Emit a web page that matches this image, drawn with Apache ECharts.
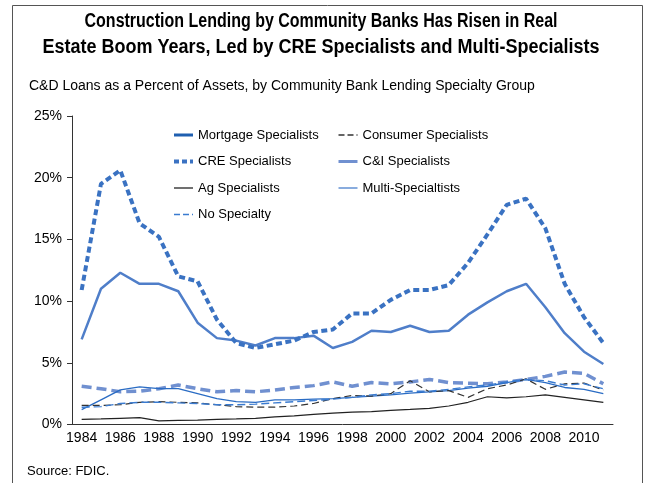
<!DOCTYPE html>
<html>
<head>
<meta charset="utf-8">
<script src="https://cdn.jsdelivr.net/npm/echarts@6/dist/echarts.min.js"></script>
<style>
  html, body { margin: 0; padding: 0; background: #fff; }
  #chart { width: 649px; height: 483px; }
</style>
</head>
<body>
<div id="chart"></div>
<script>
// years on the x axis
var years = ['1984','1985','1986','1987','1988','1989','1990','1991','1992','1993','1994','1995','1996','1997',
             '1998','1999','2000','2001','2002','2003','2004','2005','2006','2007','2008','2009','2010','2011'];

// C&D loans as % of assets
var creSpec     = [10.9,19.5,20.6,16.3,15.2,12.0,11.6,8.5,6.6,6.2,6.5,6.8,7.5,7.7,9.0,9.0,10.1,10.9,10.9,11.3,13.1,15.4,17.8,18.3,15.9,11.4,8.7,6.6];
var multiSpec   = [6.9,11.0,12.3,11.4,11.4,10.8,8.25,7.0,6.8,6.4,7.0,7.0,7.2,6.2,6.7,7.6,7.5,8.0,7.5,7.6,8.9,9.9,10.8,11.4,9.5,7.4,5.9,4.9];
var ciSpec      = [3.1,2.9,2.65,2.7,2.9,3.2,2.9,2.65,2.75,2.65,2.8,3.0,3.15,3.45,3.1,3.4,3.3,3.45,3.65,3.4,3.35,3.3,3.45,3.65,3.9,4.25,4.15,3.3];
var mortSpec    = [1.2,2.0,2.8,3.05,2.9,2.9,2.5,2.1,1.85,1.8,2.0,2.0,2.05,2.1,2.2,2.3,2.4,2.55,2.65,2.75,2.95,3.1,3.4,3.65,3.4,3.0,2.85,2.5];
var noSpec      = [1.4,1.45,1.7,1.8,1.8,1.75,1.7,1.6,1.6,1.65,1.75,1.85,1.95,2.05,2.2,2.4,2.5,2.7,2.7,2.85,3.05,3.2,3.45,3.65,3.55,3.2,3.3,2.9];
var consumerSpec= [1.55,1.55,1.6,1.8,1.85,1.8,1.75,1.6,1.45,1.4,1.4,1.5,1.7,2.1,2.35,2.3,2.5,3.55,2.65,2.75,2.2,2.9,3.2,3.7,2.85,3.3,3.35,2.8];
var agSpec      = [0.42,0.45,0.5,0.55,0.3,0.33,0.36,0.42,0.45,0.5,0.62,0.7,0.82,0.92,1.0,1.05,1.15,1.22,1.3,1.5,1.8,2.25,2.15,2.25,2.4,2.2,2.0,1.8];

var yTicks = [0, 25, 5];

var font = '"Liberation Sans", Arial, sans-serif';

var chart = echarts.init(document.getElementById('chart'));

function line(name, data, color, width, type, z) {
    return {
        name: name,
        type: 'line',
        data: data,
        symbol: 'none',
        z: z,
        lineStyle: { color: color, width: width, type: type },
        itemStyle: { color: color }
    };
}

// title lines, squeezed horizontally like the narrow bold face in the original
function titleLine(text, y, sx) {
    return {
        type: 'text',
        x: 321,
        y: y,
        scaleX: sx,
        silent: true,
        style: { text: text, align: 'center', font: 'bold 20px ' + font, fill: '#000' }
    };
}

var legendBase = {
    orient: 'vertical',
    top: 128,
    padding: 0,
    itemWidth: 19,
    itemHeight: 14,
    itemGap: 12.5,
    itemStyle: { color: 'rgba(0,0,0,0)', borderWidth: 0, opacity: 0 },
    textStyle: { fontFamily: font, fontSize: 13, color: '#000', lineHeight: 14 }
};

var option = {
    backgroundColor: '#fff',
    animation: false,
    textStyle: { fontFamily: font },
    title: [{
        text: 'C&D Loans as a Percent of Assets, by Community Bank Lending Specialty Group',
        left: 29,
        top: 79,
        padding: 0,
        textStyle: { fontFamily: font, fontSize: 14, fontWeight: 'normal', color: '#000' }
    }, {
        text: 'Source: FDIC.',
        left: 27,
        top: 465,
        padding: 0,
        textStyle: { fontFamily: font, fontSize: 13, fontWeight: 'normal', color: '#000' }
    }],
    legend: [
        Object.assign({}, legendBase, {
            left: 172,
            data: [
                { name: 'Mortgage Specialists', lineStyle: { color: '#1f5fb0', width: 3, type: 'solid' } },
                { name: 'CRE Specialists', lineStyle: { color: '#3a72c2', width: 4, type: [5, 3] } },
                { name: 'Ag Specialists', lineStyle: { color: '#222', width: 1.3, type: 'solid' } },
                { name: 'No Specialty', lineStyle: { color: '#3a7bd0', width: 1.3, type: [6, 3] } }
            ]
        }),
        Object.assign({}, legendBase, {
            left: 337,
            data: [
                { name: 'Consumer Specialists', lineStyle: { color: '#333', width: 1.3, type: [6, 3] } },
                { name: 'C&I Specialists', lineStyle: { color: '#7090d0', width: 3, type: 'solid' } },
                { name: 'Multi-Specialtists', lineStyle: { color: '#4a7fcc', width: 1.3, type: 'solid' } }
            ]
        })
    ],
    graphic: [{
        type: 'polyline',
        shape: { points: [[12.5, 483], [12.5, 5.5], [642.5, 5.5], [642.5, 483]] },
        style: { stroke: '#555', lineWidth: 1, fill: null },
        silent: true
    },
        titleLine('Construction Lending by Community Banks Has Risen in Real', 11, 0.8),
        titleLine('Estate Boom Years, Led by CRE Specialists and Multi-Specialists', 37, 0.9)
    ],
    grid: { left: 72, right: 36, top: 116, bottom: 58.5, containLabel: false },
    xAxis: {
        type: 'category',
        data: years,
        boundaryGap: true,
        axisLine: { lineStyle: { color: '#333', width: 1 } },
        axisTick: { interval: 0, length: 5, lineStyle: { color: '#333' } },
        axisLabel: { interval: 1, color: '#000', fontSize: 14, fontFamily: font, margin: 7 },
        splitLine: { show: false }
    },
    yAxis: {
        type: 'value',
        min: yTicks[0],
        max: yTicks[1],
        interval: yTicks[2],
        axisLine: { show: true, lineStyle: { color: '#333', width: 1 } },
        axisTick: { show: true, length: 5, lineStyle: { color: '#333' } },
        axisLabel: { formatter: '{value}%', color: '#000', fontSize: 14, fontFamily: font, margin: 10 },
        splitLine: { show: false }
    },
    series: [
        line('Mortgage Specialists', mortSpec, '#2a6cc4', 1.3, 'solid', 3),
        line('Consumer Specialists', consumerSpec, '#333', 1.2, [7, 4], 3),
        line('CRE Specialists', creSpec, '#3a72c2', 4, [6, 3.5], 6),
        line('C&I Specialists', ciSpec, '#7090d0', 3.5, [10, 5], 2),
        line('Ag Specialists', agSpec, '#222', 1.2, 'solid', 3),
        line('Multi-Specialtists', multiSpec, '#4f7ec9', 2.5, 'solid', 5),
        line('No Specialty', noSpec, '#3a7bd0', 1.4, [8, 4], 4)
    ]
};

chart.setOption(option);
</script>
</body>
</html>
